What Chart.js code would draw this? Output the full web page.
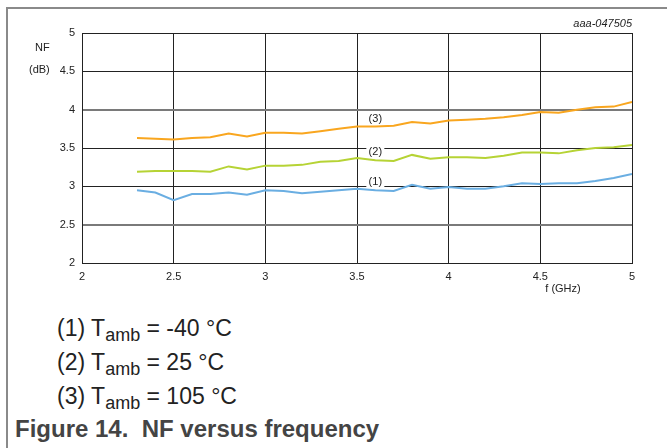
<!DOCTYPE html>
<html>
<head>
<meta charset="utf-8">
<script src="https://cdn.jsdelivr.net/npm/chart.js@4"></script>
<style>
  html, body { margin: 0; padding: 0; background: #fff; }
  body { width: 667px; height: 448px; position: relative; overflow: hidden;
         font-family: "Liberation Sans", Arial, sans-serif; }
  #frameTop { position: absolute; left: 7px; top: 7px; width: 660px; height: 0; border-top: 2px solid #8a8a8a; }
  #frameLeft { position: absolute; left: 6px; top: 7px; width: 0; height: 441px; border-left: 2px solid #8a8a8a; }
  #chartBox { position: absolute; left: 0; top: 0; width: 667px; height: 300px; }
  .note { position: absolute; left: 57px; font-size: 23px; color: #222; line-height: 24px; white-space: nowrap; }
  .note sub { font-size: 18px; vertical-align: -5px; line-height: 0; }
  #caption { position: absolute; left: 15px; top: 417px; font-size: 24px; font-weight: bold; color: #444; line-height: 24px; white-space: nowrap; }
</style>
</head>
<body>
<div id="frameTop"></div>
<div id="frameLeft"></div>
<div id="chartBox"><canvas id="nfChart" width="667" height="300"></canvas></div>
<div class="note" style="top:316px">(1) T<sub>amb</sub> = -40 °C</div>
<div class="note" style="top:350px">(2) T<sub>amb</sub> = 25 °C</div>
<div class="note" style="top:384px">(3) T<sub>amb</sub> = 105 °C</div>
<div id="caption">Figure 14.&nbsp; NF versus frequency</div>

<script>
// frequency points in GHz
var freqValues = [2.3, 2.4, 2.5, 2.6, 2.7, 2.8, 2.9, 3.0, 3.1, 3.2, 3.3, 3.4, 3.5, 3.6,
                  3.7, 3.8, 3.9, 4.0, 4.1, 4.2, 4.3, 4.4, 4.5, 4.6, 4.7, 4.8, 4.9, 5.0];

// noise figure in dB
var nfMinus40 = [2.95, 2.92, 2.82, 2.90, 2.90, 2.92, 2.89, 2.95, 2.94, 2.91, 2.93, 2.95, 2.97, 2.95,
                 2.94, 3.02, 2.97, 2.99, 2.97, 2.97, 3.00, 3.04, 3.03, 3.04, 3.04, 3.07, 3.11, 3.16];
var nf25 = [3.19, 3.20, 3.20, 3.20, 3.19, 3.26, 3.22, 3.27, 3.27, 3.28, 3.32, 3.33, 3.37, 3.34,
            3.33, 3.41, 3.36, 3.38, 3.38, 3.37, 3.40, 3.44, 3.44, 3.43, 3.47, 3.50, 3.51, 3.54];
var nf105 = [3.63, 3.62, 3.61, 3.63, 3.64, 3.69, 3.65, 3.70, 3.70, 3.69, 3.72, 3.75, 3.78, 3.78,
             3.79, 3.84, 3.82, 3.86, 3.87, 3.88, 3.90, 3.93, 3.97, 3.96, 4.00, 4.03, 4.04, 4.10];

var curveTags = ["(1)", "(2)", "(3)"];
var curveColors = ["#6aaee2", "#b6d335", "#f9a61f"];
var tagFreq = 3.6;

function toPoints(vals) {
  return freqValues.map(function (f, i) { return { x: f, y: vals[i] }; });
}

// writes (1) (2) (3) above each curve plus the axis captions
var annotations = {
  id: "annotations",
  afterDatasetsDraw: function (chart) {
    var ctx = chart.ctx;
    var xs = chart.scales.x, ys = chart.scales.y;
    var area = chart.chartArea;
    ctx.save();
    ctx.font = "11px 'Liberation Sans', Arial, sans-serif";
    ctx.textAlign = "center";
    ctx.textBaseline = "middle";
    chart.data.datasets.forEach(function (ds, i) {
      var idx = freqValues.indexOf(tagFreq);
      var px = xs.getPixelForValue(tagFreq);
      var py = ys.getPixelForValue(ds.data[idx].y) - 8;
      ctx.fillStyle = "#fff";
      ctx.fillRect(px - 9, py - 5, 18, 10);
      ctx.fillStyle = "#222";
      ctx.fillText(curveTags[i], px, py);
    });

    ctx.textAlign = "left";
    ctx.fillText("NF", 35, 48);
    ctx.fillText("(dB)", 29, 70);
    ctx.textAlign = "center";
    ctx.fillText("f (GHz)", 563, 289);
    ctx.textAlign = "right";
    ctx.font = "italic 11px 'Liberation Sans', Arial, sans-serif";
    ctx.fillText("aaa-047505", area.right, 24);
    ctx.restore();
  }
};

function plainTick(value) { return String(value); }

new Chart("nfChart", {
  type: "line",
  data: {
    datasets: [
      { label: curveTags[0], data: toPoints(nfMinus40), borderColor: curveColors[0] },
      { label: curveTags[1], data: toPoints(nf25), borderColor: curveColors[1] },
      { label: curveTags[2], data: toPoints(nf105), borderColor: curveColors[2] }
    ]
  },
  options: {
    responsive: false,
    animation: false,
    layout: { padding: { left: 0, top: 33, right: 35, bottom: 0 } },
    elements: {
      line: { borderWidth: 2, tension: 0 },
      point: { radius: 0 }
    },
    plugins: { legend: { display: false }, tooltip: { enabled: false } },
    scales: {
      x: {
        type: "linear", min: 2, max: 5,
        afterFit: function (s) { s.height = 37; },
        border: { color: "#222", width: 1 },
        grid: { color: "#222", lineWidth: 1, drawTicks: false },
        ticks: { stepSize: 0.5, padding: 7, color: "#222", maxRotation: 0, callback: plainTick,
                 font: { family: "'Liberation Sans', Arial, sans-serif", size: 11 } }
      },
      y: {
        min: 2, max: 5,
        afterFit: function (s) { s.width = 82; },
        border: { color: "#222", width: 1 },
        grid: {
          drawTicks: false,
          color: function (c) { return (c.tick && (c.tick.value === 4 || c.tick.value === 2.5)) ? "#7a7a7a" : "#222"; },
          lineWidth: function (c) { return (c.tick && (c.tick.value === 4 || c.tick.value === 2.5)) ? 2 : 1; }
        },
        ticks: { stepSize: 0.5, padding: 7, color: "#222", callback: plainTick,
                 font: { family: "'Liberation Sans', Arial, sans-serif", size: 11 } }
      }
    }
  },
  plugins: [annotations]
});
</script>
</body>
</html>
